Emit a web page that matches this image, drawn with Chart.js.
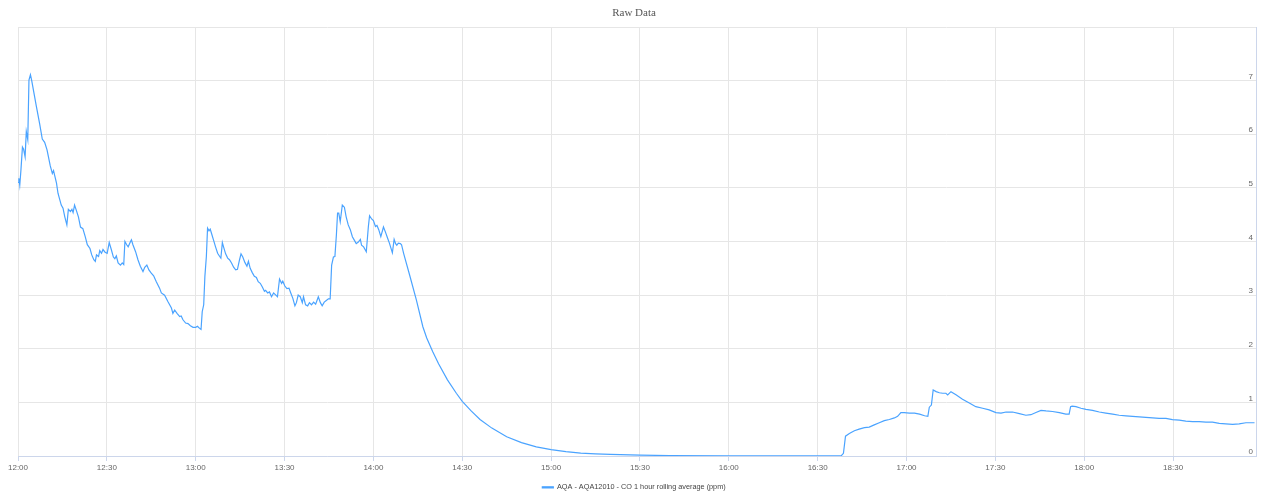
<!DOCTYPE html>
<html>
<head>
<meta charset="utf-8">
<script src="https://cdn.jsdelivr.net/npm/chart.js@4/dist/chart.umd.min.js"></script>
<style>
  html, body { margin: 0; padding: 0; background: #ffffff; }
  #wrap { width: 1261px; height: 495px; position: relative; }
</style>
</head>
<body>
<div id="wrap"><canvas id="c"></canvas></div>
<script>
// Minutes after 12:00
const minutes = [
  0.0, 0.3, 0.6, 1.0, 1.5, 1.9, 2.4, 2.8, 3.3, 3.7, 4.2, 4.6, 6.2, 7.3, 8.2, 9.0, 9.8, 10.9, 11.6, 12.0,
  13.0, 13.5, 14.1, 14.6, 15.2, 15.8, 16.5, 17.0, 17.7, 18.2, 18.6, 19.1, 19.7, 20.4, 21.1, 21.9, 22.7, 23.4, 24.3, 24.9,
  25.6, 26.1, 26.5, 27.2, 27.6, 28.2, 28.7, 29.4, 30.1, 30.8, 31.5, 32.2, 32.7, 33.2, 33.8, 34.6, 35.2, 35.7, 36.1, 36.7,
  37.2, 38.0, 38.3, 38.8, 39.7, 40.5, 41.3, 42.2, 42.8, 43.5, 44.2, 45.0, 45.8, 46.7, 47.8, 48.4, 49.5, 50.6, 51.8, 52.3,
  52.9, 53.7, 54.6, 55.1, 55.7, 56.6, 57.4, 58.2, 59.1, 60.0, 60.6, 61.3, 61.8, 62.2, 62.7, 63.1, 63.6, 64.0, 64.5, 64.9,
  65.4, 66.0, 66.7, 67.4, 68.1, 68.5, 69.0, 69.4, 70.1, 70.8, 71.4, 72.1, 72.8, 73.5, 74.1, 74.8, 75.3, 75.9, 76.6, 77.3,
  77.8, 78.4, 79.1, 79.8, 80.5, 81.1, 81.8, 82.5, 83.2, 83.6, 84.3, 84.9, 85.6, 86.3, 86.9, 87.6, 88.3, 89.0, 89.4, 90.1,
  90.8, 91.5, 92.1, 92.8, 93.5, 94.0, 94.6, 95.3, 96.0, 96.4, 97.1, 97.8, 98.4, 99.1, 99.8, 100.5, 101.4, 102.1, 102.7, 103.4,
  104.1, 104.8, 105.4, 105.9, 106.5, 107.0, 107.5, 107.9, 108.3, 108.8, 109.5, 110.2, 110.8, 111.5, 112.2, 112.9, 113.5, 114.2, 114.9, 115.6,
  116.0, 116.7, 117.6, 118.3, 118.7, 119.4, 120.0, 120.7, 121.2, 121.8, 122.5, 123.4, 124.1, 124.8, 125.4, 126.4, 127.0, 127.5, 127.9, 128.4,
  129.1, 129.5, 130.2, 132.2, 134.5, 136.7, 138.0, 140.0, 142.0, 145.0, 148.0, 150.0, 153.0, 156.0, 160.0, 165.0, 170.0, 175.0, 180.0, 185.0,
  190.0, 195.0, 200.0, 210.0, 220.0, 240.0, 260.0, 277.9, 278.7, 279.4, 280.7, 282.4, 284.0, 285.8, 287.4, 289.1, 290.8, 292.5, 294.2, 295.9,
  297.0, 298.1, 299.2, 301.0, 302.7, 304.4, 306.1, 307.2, 307.7, 308.4, 309.0, 310.0, 311.1, 312.2, 313.3, 313.9, 315.0, 316.7, 318.9, 321.2,
  323.4, 325.7, 327.9, 330.2, 331.9, 333.6, 335.8, 338.1, 340.3, 342.0, 343.7, 345.4, 347.1, 349.3, 351.6, 353.8, 354.9, 355.4, 355.9, 357.2,
  358.9, 360.6, 362.8, 365.1, 367.3, 369.6, 371.8, 374.1, 376.3, 378.6, 380.8, 383.1, 385.3, 387.6, 389.8, 392.1, 394.3, 396.6, 398.8, 401.1,
  403.3, 405.6, 407.8, 410.1, 412.3, 414.6, 416.3, 417.5
];

// CO 1 hour rolling average (ppm)
const coValues = [
  5.10, 5.18, 5.05, 5.34, 5.76, 5.72, 5.58, 6.05, 5.90, 7.01, 7.11, 7.01, 6.52, 6.20, 5.91, 5.85, 5.71, 5.41, 5.27, 5.32,
  5.09, 4.90, 4.78, 4.68, 4.62, 4.46, 4.31, 4.60, 4.56, 4.60, 4.54, 4.68, 4.58, 4.46, 4.27, 4.24, 4.09, 3.94, 3.87, 3.75,
  3.66, 3.63, 3.75, 3.72, 3.83, 3.78, 3.85, 3.80, 3.78, 3.98, 3.85, 3.71, 3.68, 3.73, 3.60, 3.56, 3.60, 3.57, 4.00, 3.94,
  3.90, 4.00, 4.03, 3.94, 3.81, 3.66, 3.54, 3.44, 3.52, 3.56, 3.47, 3.41, 3.36, 3.25, 3.13, 3.04, 3.00, 2.88, 2.76, 2.66,
  2.72, 2.66, 2.60, 2.61, 2.54, 2.48, 2.47, 2.43, 2.40, 2.40, 2.42, 2.38, 2.36, 2.69, 2.82, 3.35, 3.72, 4.25, 4.20, 4.23,
  4.14, 4.03, 3.90, 3.78, 3.72, 3.69, 3.98, 3.90, 3.77, 3.69, 3.66, 3.60, 3.52, 3.47, 3.48, 3.66, 3.77, 3.71, 3.61, 3.54,
  3.63, 3.50, 3.42, 3.35, 3.33, 3.25, 3.22, 3.15, 3.07, 3.09, 3.04, 3.06, 2.97, 3.04, 3.01, 2.97, 3.30, 3.22, 3.26, 3.17,
  3.12, 3.13, 3.04, 2.94, 2.80, 2.86, 3.00, 2.97, 2.86, 2.97, 2.82, 2.80, 2.86, 2.82, 2.87, 2.83, 2.97, 2.86, 2.80, 2.87,
  2.90, 2.93, 2.93, 3.56, 3.71, 3.72, 4.12, 4.53, 4.53, 4.37, 4.68, 4.64, 4.46, 4.31, 4.22, 4.09, 4.03, 3.96, 3.99, 4.04,
  3.93, 3.90, 3.81, 4.28, 4.48, 4.42, 4.39, 4.28, 4.30, 4.22, 4.09, 4.27, 4.17, 4.06, 3.97, 3.79, 4.04, 3.96, 3.93, 3.97,
  3.96, 3.94, 3.78, 3.38, 2.91, 2.41, 2.20, 1.95, 1.72, 1.42, 1.17, 1.02, 0.84, 0.68, 0.52, 0.36, 0.25, 0.17, 0.12, 0.08,
  0.055, 0.04, 0.03, 0.015, 0.008, 0.004, 0.002, 0.001, 0.05, 0.37, 0.42, 0.47, 0.50, 0.53, 0.54, 0.58, 0.62, 0.66, 0.68, 0.71,
  0.74, 0.81, 0.81, 0.80, 0.80, 0.78, 0.75, 0.74, 0.91, 0.95, 1.23, 1.20, 1.18, 1.17, 1.17, 1.14, 1.20, 1.14, 1.06, 0.99,
  0.92, 0.89, 0.86, 0.81, 0.80, 0.82, 0.82, 0.79, 0.76, 0.77, 0.81, 0.85, 0.84, 0.83, 0.81, 0.78, 0.78, 0.92, 0.93, 0.92,
  0.89, 0.87, 0.85, 0.82, 0.80, 0.78, 0.76, 0.75, 0.74, 0.73, 0.72, 0.71, 0.70, 0.70, 0.68, 0.67, 0.65, 0.64, 0.64, 0.63,
  0.63, 0.61, 0.60, 0.59, 0.60, 0.62, 0.62, 0.62
];

const seriesName = 'AQA - AQA12010 - CO 1 hour rolling average (ppm)';
const chartTitle = 'Raw Data';
const xRange = [0, 418];      // 12:00 .. 18:58
const xTickStep = 30;         // every half hour
const yRange = [0, 8];
const yTickStep = 1;

function fmtTime(m) {
  const h = 12 + Math.floor(m / 60);
  const mm = Math.round(m % 60);
  return h + ':' + (mm < 10 ? '0' : '') + mm;
}

const points = minutes.map((m, i) => ({ x: m, y: coValues[i] }));

Chart.defaults.font.family = "'Liberation Sans', Arial, sans-serif";

// Nudge the title and legend boxes slightly left so they centre like the original.
const centreShift = {
  id: 'centreShift',
  afterLayout(chart) {
    const dx = -5.5;
    [chart.titleBlock, chart.legend].forEach((b) => {
      if (b) { b.left += dx; b.right += dx; }
    });
  }
};

new Chart(document.getElementById('c'), {
  type: 'line',
  data: {
    datasets: [{
      label: seriesName,
      data: points,
      borderColor: '#4aa3ff',
      backgroundColor: '#4aa3ff',
      borderWidth: 1.2,
      pointRadius: 0,
      tension: 0,
      fill: false
    }]
  },
  plugins: [centreShift],
  options: {
    responsive: true,
    maintainAspectRatio: false,
    animation: false,
    layout: { padding: { left: 18, right: 0, top: 0, bottom: -6 } },
    plugins: {
      title: {
        display: true,
        text: chartTitle,
        color: '#555555',
        font: { family: "'Liberation Serif', 'Times New Roman', serif", size: 11, weight: 'normal' },
        padding: { top: 7, bottom: 6.8 }
      },
      legend: {
        display: true,
        position: 'bottom',
        labels: {
          color: '#444444',
          font: { size: 7.3 },
          boxWidth: 11,
          boxHeight: 1,
          padding: 8.7
        }
      },
      tooltip: { enabled: false }
    },
    scales: {
      x: {
        type: 'linear',
        min: xRange[0],
        max: xRange[1],
        grid: { color: '#e6e6e6', tickColor: '#ccd6eb', tickLength: 5, drawTicks: true },
        border: { display: true, color: '#ccd6eb', width: 1 },
        ticks: {
          stepSize: xTickStep,
          includeBounds: false,
          autoSkip: false,
          maxRotation: 0,
          color: '#666666',
          font: { size: 8 },
          padding: 2,
          callback: (v) => fmtTime(v)
        },
        afterFit: (s) => { s.height = 19; }
      },
      y: {
        type: 'linear',
        position: 'right',
        min: yRange[0],
        max: yRange[1],
        grid: { color: '#e6e6e6', drawTicks: false },
        border: { display: true, color: '#ccd6eb', width: 1 },
        ticks: {
          stepSize: yTickStep,
          mirror: true,
          padding: -3,
          labelOffset: -4,
          color: '#666666',
          font: { size: 8 },
          callback: (v) => (v === yRange[1] ? '' : String(v))
        },
        afterFit: (s) => { s.width = 5; }
      }
    }
  }
});
</script>
</body>
</html>
